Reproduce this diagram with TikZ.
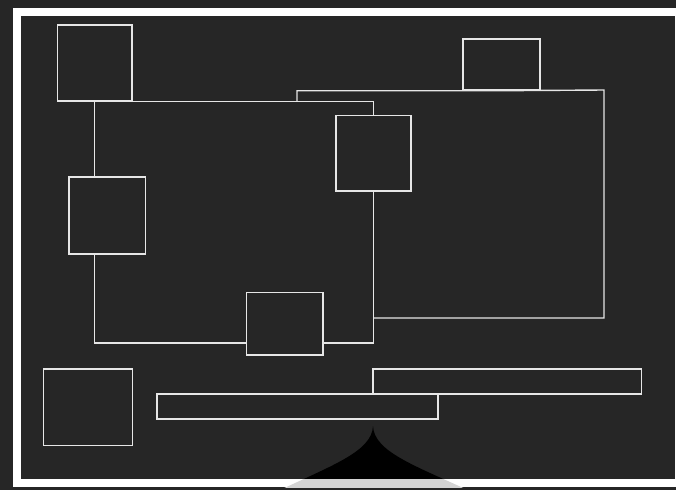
\documentclass[tikz,border=0pt]{standalone}
\usetikzlibrary{calc}
\definecolor{bgdark}{HTML}{262626}
\definecolor{lineclr}{HTML}{E6E6E6}
\definecolor{bandgrey}{HTML}{D4D4D4}
\tikzset{
  box/.style={draw=lineclr, line width=1.4pt, rectangle, inner sep=0pt, minimum width=#1},
  wire/.style={draw=lineclr, line width=1.4pt},
}
\begin{document}
\begin{tikzpicture}[x=1pt,y=-1pt]
\useasboundingbox (0,0) rectangle (676,490);
\fill[bgdark] (0,0) rectangle (676,490);
% spike shape
\def\spike{(276,492) .. controls (330,466) and (372,452) .. (373,426) .. controls (374,452) and (416,466) .. (472,492) -- cycle}
\begin{scope}
  \clip (0,0) rectangle (676,479);
  \fill[black] \spike;
\end{scope}
% frame
\draw[white, line width=8pt] (17,12) rectangle (679,483);
\begin{scope}
  \clip (0,479) rectangle (676,487);
  \fill[bandgrey] \spike;
\end{scope}
% nodes
\node[box=74.7, minimum height=76] (A) at (94.7,63) {};
\node[box=76.7, minimum height=77] (B) at (107.3,215.5) {};
\node[box=75, minimum height=75.3] (C) at (373.5,153.3) {};
\node[box=76.3, minimum height=62.3] (D) at (284.8,323.8) {};
\node[box=77, minimum height=51] (E) at (501.5,64.5) {};
\node[box=89.3, minimum height=76.7] (F) at (88,407.3) {};
\node[box=281, minimum height=25] (G) at (297.5,406.5) {};
\node[box=268.7, minimum height=25] (H) at (507.3,381.5) {};
% connectors
\coordinate (bt) at (A.south |- B.north);
\coordinate (bb) at (A.south |- B.south);
\coordinate (dl) at (D.west |- 0,343);
\coordinate (dr) at (D.east |- 0,343);
\coordinate (pl) at (297,101);
\coordinate (pb) at (C.south |- 0,318);
\draw[wire] (A.south) -- (bt);
\draw[wire] (A.south east) -| (C.north);
\draw[wire] (bb) |- (dl);
\draw[wire] (dr) -| (C.south);
\draw[wire] (pl) |- (E.south) -- (604,90) |- (pb);
\end{tikzpicture}
\end{document}
